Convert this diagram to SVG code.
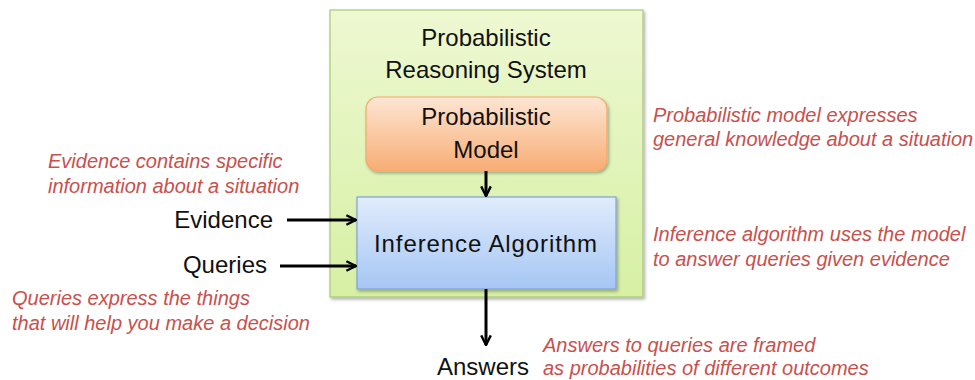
<svg xmlns="http://www.w3.org/2000/svg" width="975" height="380" viewBox="0 0 975 380">
<defs>
<linearGradient id="gGreen" x1="0" y1="0" x2="0" y2="1"><stop offset="0" stop-color="#eef8d2"/><stop offset="1" stop-color="#d6f0a4"/></linearGradient>
<linearGradient id="gOrange" x1="0" y1="0" x2="0" y2="1"><stop offset="0" stop-color="#fde6d4"/><stop offset="1" stop-color="#f8ad74"/></linearGradient>
<linearGradient id="gBlue" x1="0" y1="0" x2="0" y2="1"><stop offset="0" stop-color="#e0ecfc"/><stop offset="1" stop-color="#a6c6f4"/></linearGradient>
<filter id="sh" x="-5%" y="-5%" width="112%" height="115%"><feDropShadow dx="1.5" dy="2" stdDeviation="1.5" flood-color="#000" flood-opacity="0.3"/></filter>
<marker id="arr" viewBox="0 0 10 10" refX="9" refY="5" markerWidth="4" markerHeight="4" orient="auto"><path d="M1,1 L9,5 L1,9" fill="none" stroke="#000" stroke-width="2"/></marker>
</defs>
<style>
.lbl{font-family:"Liberation Sans",Arial,sans-serif;font-size:24px;fill:#111;}
.note{font-family:"Liberation Sans",Arial,sans-serif;font-style:italic;font-size:20px;fill:#c8504d;}
.conn{stroke:#000;stroke-width:3;fill:none;marker-end:url(#arr);}
</style>
<rect width="975" height="380" fill="#fff"/>
<g id="system">
<rect x="330" y="10" width="313" height="287" fill="url(#gGreen)" stroke="#a8c878" stroke-width="1.2" filter="url(#sh)"/>
<text class="lbl" x="486" y="46" text-anchor="middle">Probabilistic</text>
<text class="lbl" x="486" y="78" text-anchor="middle">Reasoning System</text>
</g>
<g id="model">
<rect x="366" y="97" width="241" height="74" rx="12" fill="url(#gOrange)" stroke="#f5a86a" stroke-width="1.2" filter="url(#sh)"/>
<text class="lbl" x="486" y="125" text-anchor="middle">Probabilistic</text>
<text class="lbl" x="486" y="158" text-anchor="middle">Model</text>
</g>
<g id="inference">
<rect x="357" y="197" width="259" height="92" fill="url(#gBlue)" stroke="#7fa3d6" stroke-width="1.2" filter="url(#sh)"/>
<text class="lbl" x="486" y="252" text-anchor="middle" letter-spacing="0.9">Inference Algorithm</text>
</g>
<g id="evidence"><text class="lbl" x="273" y="228" text-anchor="end">Evidence</text></g>
<g id="queries"><text class="lbl" x="267" y="273" text-anchor="end">Queries</text></g>
<g id="answers"><text class="lbl" x="437" y="375">Answers</text></g>
<g id="notes">
<text class="note" x="48" y="168">Evidence contains specific</text>
<text class="note" x="48" y="193">information about a situation</text>
<text class="note" x="12" y="305">Queries express the things</text>
<text class="note" x="12" y="330">that will help you make a decision</text>
<text class="note" x="653" y="122">Probabilistic model expresses</text>
<text class="note" x="653" y="146">general knowledge about a situation</text>
<text class="note" x="653" y="241">Inference algorithm uses the model</text>
<text class="note" x="653" y="266">to answer queries given evidence</text>
<text class="note" x="543" y="352">Answers to queries are framed</text>
<text class="note" x="543" y="375">as probabilities of different outcomes</text>
</g>
<g id="connectors">
<line class="conn" x1="486" y1="171" x2="486" y2="196"/>
<line class="conn" x1="287" y1="220" x2="356" y2="220"/>
<line class="conn" x1="280" y1="266" x2="356" y2="266"/>
<line class="conn" x1="486" y1="289" x2="486" y2="345"/>
</g>
</svg>
